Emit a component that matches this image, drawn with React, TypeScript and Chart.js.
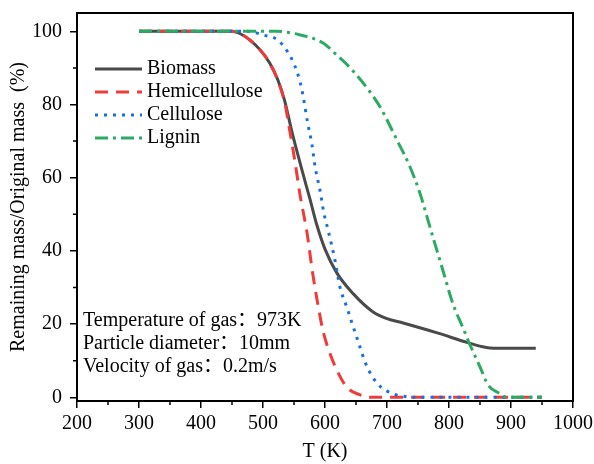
import React, { useEffect, useRef } from "react";
import { Chart, registerables } from "chart.js";

Chart.register(...registerables);

const biomassT = [300, 400, 450, 465, 479, 495, 511, 524, 535, 546, 552, 563, 576, 587, 600, 619, 645, 677, 700, 726, 781, 829, 850, 866, 900, 940];
const biomassY = [100, 100, 100, 99.2, 97.6, 95, 91.3, 86.7, 81, 73, 69, 62, 54, 47, 40.5, 34, 28.4, 23.4, 21.5, 20.3, 17.6, 15, 14, 13.5, 13.4, 13.4];

const hemiT = [300, 450, 465, 479, 495, 511, 524, 535, 543, 551, 560, 571, 580, 590, 597, 608, 619, 630, 640, 655, 672, 700, 800, 950];
const hemiY = [100, 100, 99.2, 97.6, 95, 91.3, 86.5, 80.5, 73, 65, 55, 45, 34, 24, 18, 12, 7.5, 4, 2, 0.8, 0, 0, 0, 0];

const celluloseT = [300, 474, 500, 524, 540, 551, 560, 565, 572, 579, 584, 592, 598, 605, 616, 624, 635, 651, 668, 684, 700, 726, 750, 950];
const celluloseY = [100, 100, 99, 97.6, 94.3, 90.7, 86, 82, 75, 69, 63, 56.5, 50.5, 45.7, 37.5, 30.2, 24.7, 16.5, 8.3, 3.9, 1.7, 0.3, 0, 0];

const ligninT = [300, 450, 522, 560, 597, 619, 635, 661, 689, 716, 737, 753, 774, 790, 806, 822, 834, 850, 863, 880, 894, 950];
const ligninY = [100, 100, 100, 99, 96.8, 93.5, 91, 86, 79.3, 70.3, 63, 55.8, 43.8, 34.8, 25.7, 19.2, 14.3, 8.3, 3.4, 1.2, 0, 0];

const seriesNames = ["Biomass", "Hemicellulose", "Cellulose", "Lignin"];
const xTicks = [200, 300, 400, 500, 600, 700, 800, 900, 1000];
const yTicks = [0, 20, 40, 60, 80, 100];
const annotations = ["Temperature of gas\uFF1A973K", "Particle diameter\uFF1A10mm", "Velocity of gas\uFF1A0.2m/s"];
const xTitle = "T (K)";
const yTitle = "Remaining mass/Original mass  (%)";

const FONT = "'Times New Roman', 'Liberation Serif', 'Noto Sans CJK SC', serif";
const colors = ["#4a4a4a", "#ef3b3b", "#1a6fe0", "#2aaa62"];
const dashes = [[], [13, 8], [3, 6], [13, 5, 3, 5]];

const zip = (xs: number[], ys: number[]) => xs.map((x, i) => ({ x, y: ys[i] }));

const zeroPad = (s: any) => {
  s.paddingTop = 0;
  s.paddingBottom = 0;
  s.paddingLeft = 0;
  s.paddingRight = 0;
};

const decorPlugin = {
  id: "decor",
  afterDraw(chart: any) {
    const ctx = chart.ctx;
    const a = chart.chartArea;
    const xs = chart.scales.x;
    const ys = chart.scales.y;
    ctx.save();
    ctx.strokeStyle = "#000";
    ctx.lineWidth = 2;
    ctx.strokeRect(a.left, a.top, a.right - a.left, a.bottom - a.top);
    ctx.lineWidth = 1.5;
    ctx.beginPath();
    for (let i = 0; i < xTicks.length - 1; i++) {
      const v = (xTicks[i] + xTicks[i + 1]) / 2;
      const p = xs.getPixelForValue(v);
      ctx.moveTo(p, a.bottom);
      ctx.lineTo(p, a.bottom + 4);
    }
    for (let i = 0; i < yTicks.length - 1; i++) {
      const v = (yTicks[i] + yTicks[i + 1]) / 2;
      const p = ys.getPixelForValue(v);
      ctx.moveTo(a.left, p);
      ctx.lineTo(a.left - 4, p);
    }
    ctx.stroke();
    ctx.font = `20px ${FONT}`;
    ctx.textBaseline = "middle";
    ctx.textAlign = "left";
    seriesNames.forEach((name, i) => {
      const y = 69 + i * 23;
      ctx.strokeStyle = colors[i];
      ctx.lineWidth = 3;
      ctx.setLineDash(dashes[i]);
      ctx.beginPath();
      ctx.moveTo(95, y);
      ctx.lineTo(142, y);
      ctx.stroke();
      ctx.setLineDash([]);
      ctx.fillStyle = "#000";
      ctx.fillText(name, 147, y);
    });
    annotations.forEach((t, i) => {
      ctx.fillText(t, 83, 321 + i * 23);
    });
    ctx.textAlign = "center";
    ctx.fillText(xTitle, (a.left + a.right) / 2, 452);
    ctx.translate(19, (a.top + a.bottom) / 2);
    ctx.rotate(-Math.PI / 2);
    ctx.fillText(yTitle, 0, 0);
    ctx.restore();
  },
};

export default function App() {
  const ref = useRef<HTMLCanvasElement>(null);
  useEffect(() => {
    const mk = (i: number, data: any[]) => ({
      label: seriesNames[i],
      data,
      borderColor: colors[i],
      backgroundColor: colors[i],
      borderWidth: 3,
      borderDash: dashes[i],
      pointRadius: 0,
      fill: false,
      cubicInterpolationMode: "monotone" as const,
      order: 4 - i,
    });
    const chart = new Chart(ref.current!, {
      type: "line",
      data: {
        datasets: [
          mk(0, zip(biomassT, biomassY)),
          mk(1, zip(hemiT, hemiY)),
          mk(2, zip(celluloseT, celluloseY)),
          mk(3, zip(ligninT, ligninY)),
        ],
      },
      options: {
        animation: false,
        responsive: false,
        layout: { padding: { top: 13, right: 21, left: 0, bottom: 0 } },
        plugins: { legend: { display: false }, tooltip: { enabled: false } },
        scales: {
          x: {
            type: "linear",
            min: 200,
            max: 1000,
            afterFit: (s: any) => { s.height = 63; zeroPad(s); },
            afterBuildTicks: (s: any) => { s.ticks = xTicks.map((v) => ({ value: v })); },
            grid: { display: true, drawOnChartArea: false, drawTicks: true, tickLength: 7, color: "#000", lineWidth: 1.5 },
            border: { display: true, color: "#000", width: 2 },
            ticks: { color: "#000", font: { family: FONT, size: 20 }, padding: 4, maxRotation: 0, autoSkip: false, callback: (v: any) => String(v) },
          },
          y: {
            type: "linear",
            min: -1,
            max: 105,
            afterFit: (s: any) => { s.width = 77; zeroPad(s); },
            afterBuildTicks: (s: any) => { s.ticks = yTicks.map((v) => ({ value: v })); },
            grid: { display: true, drawOnChartArea: false, drawTicks: true, tickLength: 7, color: "#000", lineWidth: 1.5 },
            border: { display: true, color: "#000", width: 2 },
            ticks: { color: "#000", font: { family: FONT, size: 20 }, padding: 8, autoSkip: false, callback: (v: any) => String(v) },
          },
        },
      },
      plugins: [decorPlugin],
    });
    return () => chart.destroy();
  }, []);
  return (
    <div style={{ position: "absolute", left: 0, top: 0, width: 594, height: 464, background: "#fff" }}>
      <canvas ref={ref} width={594} height={464} />
    </div>
  );
}
